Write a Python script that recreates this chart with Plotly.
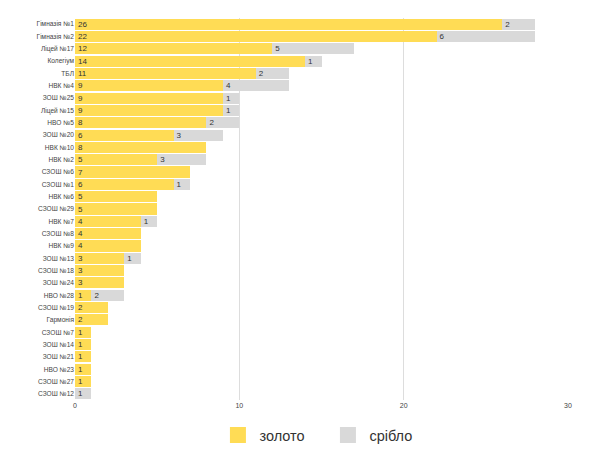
import plotly.graph_objects as go

categories = ["Гімназія №1", "Гімназія №2", "Ліцей №17", "Колегіум", "ТБЛ", "НВК №4",
              "ЗОШ №25", "Ліцей №15", "НВО №5", "ЗОШ №20", "НВК №10", "НВК №2",
              "СЗОШ №6", "СЗОШ №1", "НВК №6", "СЗОШ №29", "НВК №7", "СЗОШ №8",
              "НВК №9", "ЗОШ №13", "СЗОШ №18", "ЗОШ №24", "НВО №28", "СЗОШ №19",
              "Гармонія", "СЗОШ №7", "ЗОШ №14", "ЗОШ №21", "НВО №23", "СЗОШ №27",
              "СЗОШ №12"]
gold = [26, 22, 12, 14, 11, 9, 9, 9, 8, 6, 8, 5, 7, 6, 5, 5, 4, 4, 4, 3, 3, 3, 1, 2, 2,
        1, 1, 1, 1, 1, 0]
silver = [2, 6, 5, 1, 2, 4, 1, 1, 2, 3, 0, 3, 0, 1, 0, 0, 1, 0, 0, 1, 0, 0, 2, 0, 0,
          0, 0, 0, 0, 0, 1]
x_ticks = [0, 10, 20, 30]

GOLD = "#FFDC55"
SILVER = "#D9D9D9"

def labels(vals):
    return [str(v) if v else "" for v in vals]

fig = go.Figure()
for vals, nm, col in [(gold, "золото", GOLD), (silver, "срібло", SILVER)]:
    fig.add_trace(go.Bar(y=categories, x=vals, orientation="h", name=nm,
                         marker=dict(color=col, line=dict(width=0)),
                         text=labels(vals), textposition="inside", insidetextanchor="start",
                         textangle=0,
                         textfont=dict(size=8, color="#333333"), constraintext="none",
                         showlegend=False, hoverinfo="x+y"))
for nm, col in [("золото", GOLD), ("срібло", SILVER)]:
    fig.add_trace(go.Scatter(x=[None], y=[None], mode="markers", name=nm,
                             marker=dict(symbol="square", size=16, color=col),
                             showlegend=True))

fig.update_layout(
    width=594, height=443,
    barmode="stack", bargap=0.1,
    paper_bgcolor="white", plot_bgcolor="white",
    font=dict(family="Liberation Sans, Arial, sans-serif", color="#333333"),
    margin=dict(l=67, r=34, t=10, b=51, autoexpand=False),
    xaxis=dict(range=[0, 30], tickvals=x_ticks, showgrid=True, gridcolor="#DDDDDD",
               gridwidth=1, zeroline=False, showline=False, ticks="", automargin=False,
               tickfont=dict(size=7, color="#444444"), fixedrange=True),
    yaxis=dict(autorange="reversed", showgrid=False, ticks="", automargin=False,
               tickfont=dict(size=6.6, color="#444444"), fixedrange=True),
    legend=dict(orientation="h", x=0.51, xanchor="center", y=-0.092, yanchor="middle",
                font=dict(size=14.5, color="#333333"), itemsizing="trace",
                traceorder="normal", itemwidth=33, entrywidth=62, entrywidthmode="pixels"),
    showlegend=True,
)

fig.write_html("out.html")
